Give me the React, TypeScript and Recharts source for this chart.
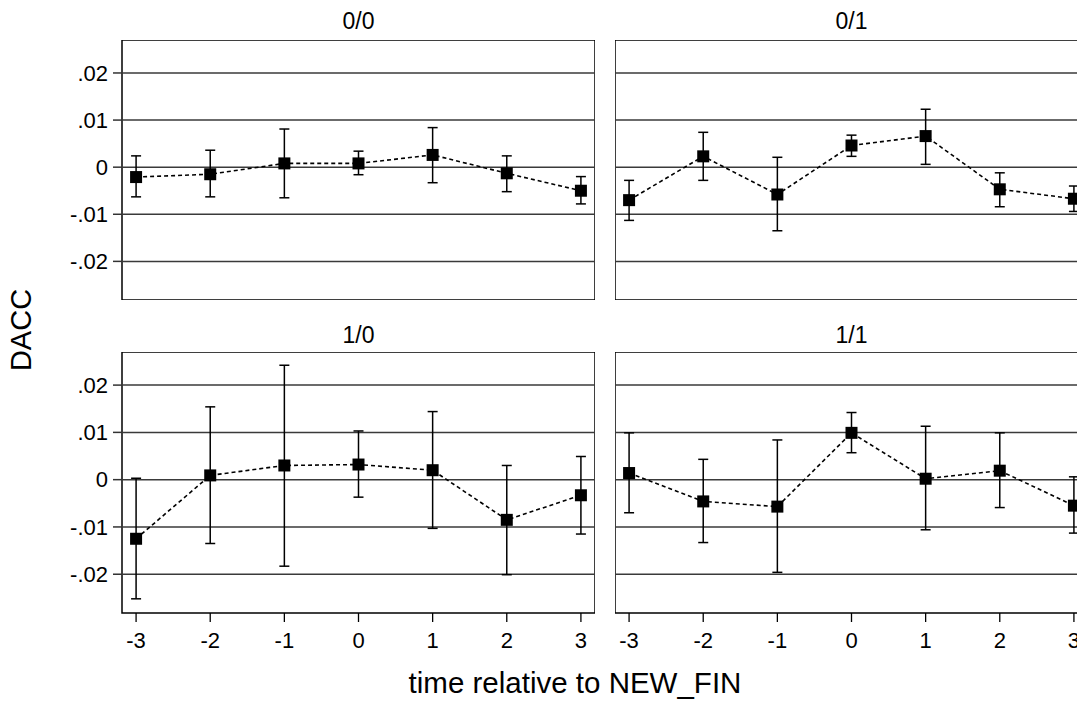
import React from 'react';
import { LineChart, Line, XAxis, YAxis, ErrorBar, ReferenceLine, ReferenceArea } from 'recharts';

const FONT = '"Liberation Sans", Arial, Helvetica, sans-serif';

const periods = [-3, -2, -1, 0, 1, 2, 3];
const yTicks = [-0.02, -0.01, 0, 0.01, 0.02];

const dacc00 = [-0.0021, -0.0015, 0.0008, 0.0008, 0.0026, -0.0013, -0.005];
const lo00 = [-0.0063, -0.0063, -0.0065, -0.0016, -0.0033, -0.0052, -0.0078];
const hi00 = [0.0024, 0.0036, 0.0081, 0.0034, 0.0084, 0.0024, -0.002];

const dacc01 = [-0.007, 0.0023, -0.0058, 0.0046, 0.0066, -0.0047, -0.0067];
const lo01 = [-0.0113, -0.0028, -0.0135, 0.0023, 0.0006, -0.0084, -0.0094];
const hi01 = [-0.0028, 0.0074, 0.0021, 0.0068, 0.0123, -0.0012, -0.004];

const dacc10 = [-0.0125, 0.0009, 0.003, 0.0032, 0.002, -0.0085, -0.0033];
const lo10 = [-0.0252, -0.0135, -0.0183, -0.0037, -0.0103, -0.0201, -0.0115];
const hi10 = [0.0003, 0.0154, 0.0242, 0.0103, 0.0144, 0.003, 0.0049];

const dacc11 = [0.0014, -0.0046, -0.0057, 0.0099, 0.0002, 0.0019, -0.0055];
const lo11 = [-0.007, -0.0133, -0.0196, 0.0057, -0.0106, -0.0059, -0.0113];
const hi11 = [0.0099, 0.0043, 0.0084, 0.0142, 0.0113, 0.0099, 0.0006];

const X_DOMAIN: [number, number] = [-3.19, 3.19];
const Y_DOMAIN: [number, number] = [-0.0282, 0.027];
const PLOT_W = 473;
const Y_AXIS_W = 70;
const X_AXIS_H = 50;

function buildRows(vals: number[], lo: number[], hi: number[]) {
  return periods.map((t, i) => ({
    t,
    dacc: vals[i],
    err: [vals[i] - lo[i], hi[i] - vals[i]],
  }));
}

function fmtY(v: number) {
  if (Math.abs(v) < 1e-9) return '0';
  const s = Math.abs(v).toFixed(2).replace(/^0/, '');
  return (v < 0 ? '-' : '') + s;
}

function SquareDot(props: any) {
  const { cx, cy, index } = props;
  if (cx == null || cy == null) return <g key={`sq-${index}`} />;
  return <rect key={`sq-${index}`} x={cx - 6} y={cy - 6} width={12} height={12} fill="#000" />;
}

interface PanelProps {
  title: string;
  rows: { t: number; dacc: number; err: number[] }[];
  plotLeft: number;
  plotTop: number;
  plotH: number;
  titleY: number;
  showY: boolean;
  showX: boolean;
}

function Panel({ title, rows, plotLeft, plotTop, plotH, titleY, showY, showX }: PanelProps) {
  const w = PLOT_W + (showY ? Y_AXIS_W : 0);
  const h = plotH + (showX ? X_AXIS_H : 0);
  const tickStyle = { fill: '#000', fontSize: 22, fontFamily: FONT };
  return (
    <>
      <div
        style={{
          position: 'absolute',
          left: plotLeft,
          width: PLOT_W,
          top: titleY - 11.5,
          textAlign: 'center',
          fontFamily: FONT,
          fontSize: 23,
          lineHeight: '23px',
          color: '#000',
        }}
      >
        {title}
      </div>
      <div style={{ position: 'absolute', left: plotLeft - (showY ? Y_AXIS_W : 0), top: plotTop }}>
        <LineChart width={w} height={h} data={rows} margin={{ top: 0, right: 0, bottom: 0, left: 0 }}>
          <XAxis
            dataKey="t"
            type="number"
            domain={X_DOMAIN}
            allowDataOverflow
            ticks={periods}
            hide={!showX}
            height={X_AXIS_H}
            axisLine={false}
            tickLine={{ stroke: '#000', strokeWidth: 1.3 }}
            tickSize={9}
            tickMargin={10}
            tick={tickStyle}
          />
          <YAxis
            type="number"
            domain={Y_DOMAIN}
            allowDataOverflow
            ticks={yTicks}
            hide={!showY}
            width={Y_AXIS_W}
            axisLine={false}
            tickLine={{ stroke: '#333', strokeWidth: 1.5 }}
            tickSize={9}
            tickMargin={5}
            tick={tickStyle}
            tickFormatter={fmtY}
          />
          {yTicks.map((v) => (
            <ReferenceLine key={v} y={v} stroke="#3a3a3a" strokeWidth={1.5} ifOverflow="visible" />
          ))}
          <ReferenceArea
            x1={X_DOMAIN[0]}
            x2={X_DOMAIN[1]}
            y1={Y_DOMAIN[0]}
            y2={Y_DOMAIN[1]}
            fill="none"
            stroke="#000"
            strokeWidth={1.5}
            ifOverflow="visible"
          />
          <Line
            dataKey="dacc"
            type="linear"
            stroke="#000"
            strokeWidth={1.6}
            strokeDasharray="4 3"
            dot={SquareDot}
            activeDot={false}
            isAnimationActive={false}
          >
            <ErrorBar dataKey="err" direction="y" width={5} stroke="#000" strokeWidth={1.5} />
          </Line>
        </LineChart>
      </div>
    </>
  );
}

export default function App() {
  return (
    <div
      style={{
        position: 'absolute',
        left: 0,
        top: 0,
        width: 1077,
        height: 702,
        overflow: 'hidden',
        background: '#fff',
        fontFamily: FONT,
      }}
    >
      <Panel title="0/0" rows={buildRows(dacc00, lo00, hi00)} plotLeft={122} plotTop={40} plotH={260} titleY={21} showY showX={false} />
      <Panel title="0/1" rows={buildRows(dacc01, lo01, hi01)} plotLeft={615} plotTop={40} plotH={260} titleY={21} showY={false} showX={false} />
      <Panel title="1/0" rows={buildRows(dacc10, lo10, hi10)} plotLeft={122} plotTop={352} plotH={261} titleY={335} showY showX />
      <Panel title="1/1" rows={buildRows(dacc11, lo11, hi11)} plotLeft={615} plotTop={352} plotH={261} titleY={335} showY={false} showX />
      <div
        style={{
          position: 'absolute',
          left: 21,
          top: 330,
          transform: 'translate(-50%, -50%) rotate(-90deg)',
          fontSize: 29,
          lineHeight: '29px',
          whiteSpace: 'nowrap',
          color: '#000',
        }}
      >
        DACC
      </div>
      <div
        style={{
          position: 'absolute',
          left: 325,
          width: 500,
          top: 668,
          textAlign: 'center',
          fontSize: 29.5,
          lineHeight: '29px',
          whiteSpace: 'nowrap',
          color: '#000',
        }}
      >
        time relative to NEW_FIN
      </div>
    </div>
  );
}
